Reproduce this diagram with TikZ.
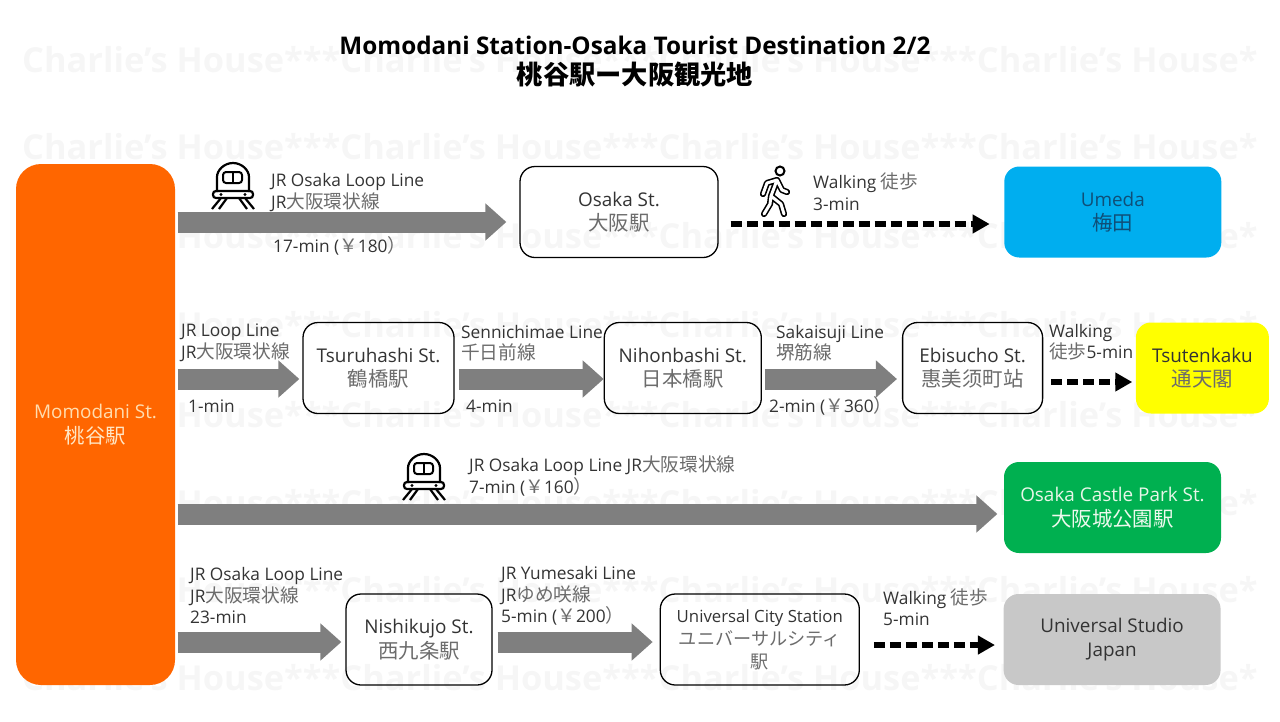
\documentclass[tikz,border=0pt]{standalone}
\usepackage{fontspec}
\usepackage{xcolor}
\usetikzlibrary{positioning, arrows.meta}
\setmainfont{Open Sans}
\newfontfamily\cjk[Scale=1.08]{Noto Sans CJK JP}
\newcommand{\jp}[1]{{\cjk\color{.!72!white}#1}}
\definecolor{markgray}{HTML}{F6F6F6}
\definecolor{linegray}{HTML}{7F7F7F}
\definecolor{labelgray}{HTML}{333333}
\definecolor{momoorange}{HTML}{FF6600}
\definecolor{momotext}{HTML}{FFDDB0}
\definecolor{umedablue}{HTML}{00AEEF}
\definecolor{umedatext}{HTML}{0F4F78}
\definecolor{tsutenyellow}{RGB}{255,255,0}
\definecolor{castlegreen}{HTML}{00B050}
\definecolor{castletext}{HTML}{E8F6E8}
\definecolor{studiogray}{HTML}{C8C8C8}

\begin{document}
\begin{tikzpicture}[x=1pt,y=-1pt,
    station/.style={
        rectangle,
        draw=black,
        line width=1.3pt,
        rounded corners=15pt,
        align=center,
        inner sep=0pt,
        minimum height=91pt,
        text=labelgray,
        execute at begin node={\rule{0pt}{22pt}},
        font=\fontsize{18.9}{24.5}\selectfont
      },
    spot/.style={station,draw=none},
    note/.style={
        anchor=west,
        align=left,
        inner sep=0pt,
        text=labelgray,
        font=\fontsize{17.3}{21.5}\selectfont
      },
    fatarrow/.style={
        draw=linegray,
        line width=21pt,
        -{Triangle[length=21pt,width=36pt]}
      },
    walkarrow/.style={
        draw=black,
        line width=5.5pt,
        dash pattern=on 11pt off 5pt,
        -{Triangle[length=17pt,width=18pt]}
      },
    trainicon/.pic={
        \draw[line width=2.2pt,rounded corners=2pt] (-16,6) -- (-16,-7) arc (180:360:16) -- (16,6);
        \draw[line width=2pt,rounded corners=3pt] (-10,-14) rectangle (9,-3);
        \draw[line width=2pt] (0,-14) -- (0,-3);
        \draw[line width=2.2pt,rounded corners=3pt] (-20,5) rectangle (20,12);
        \fill (-12,8.5) circle (1.6) (12,8.5) circle (1.6);
        \draw[line width=2.2pt] (-12,12) -- (-21,23) (-6,12) -- (-14,23) (12,12) -- (21,23) (6,12) -- (14,23);
      },
    walkericon/.pic={
        \draw[line width=2pt] (5,-19) circle (4.5);
        \draw[line width=1.6pt,double=white,double distance=3pt,line join=round,line cap=round]
          (-12,4) -- (-8,-7) -- (2,-10) -- (7,0) -- (12,2)
          (2,-10) -- (-4,6) -- (6,14) -- (9,24)
          (-4,6) -- (-5,14) -- (-11,24);
      }]

    \useasboundingbox (0,0) rectangle (1280,721);

    \foreach \rowy in {60,147,236,325,415,503,590,678}
      \node[anchor=west,inner sep=0pt,text=markgray,font=\fontsize{34.4}{38}\selectfont\bfseries]
        at (22,\rowy) {Charlie's House***Charlie's House***Charlie's House***Charlie's House*};

    \node[inner sep=0pt,align=center,text=black,font=\fontsize{24.3}{30}\selectfont\bfseries] (title) at (635,62)
      {Momodani Station-Osaka Tourist Destination 2/2\\{\cjk 桃谷駅ー大阪観光地}};

    \node[spot,fill=momoorange,text=momotext,rounded corners=25pt,minimum width=159pt,minimum height=521pt] (momo) at (95.5,424.5)
      {Momodani St.\\\jp{桃谷駅}};

    \node[station,minimum width=198pt] (osaka) at (619,212) {Osaka St.\\\jp{大阪駅}};
    \node[spot,fill=umedablue,text=umedatext,minimum width=217pt,right=285pt of osaka] (umeda) {Umeda\\{\cjk 梅田}};

    \node[station,minimum width=151pt] (tsuruhashi) at (378.5,368) {Tsuruhashi St.\\\jp{鶴橋駅}};
    \node[station,minimum width=157pt,right=149pt of tsuruhashi] (nihonbashi) {Nihonbashi St.\\\jp{日本橋駅}};
    \node[station,minimum width=140pt,right=140pt of nihonbashi] (ebisucho) {Ebisucho St.\\\jp{惠美须町站}};
    \node[spot,fill=tsutenyellow,minimum width=133pt,right=92pt of ebisucho] (tsutenkaku) {Tsutenkaku\\\jp{通天閣}};

    \node[spot,fill=castlegreen,text=castletext,minimum width=217pt] (castle) at (1112.5,507.5) {Osaka Castle Park St.\\\jp{大阪城公園駅}};

    \node[station,minimum width=146pt] (nishikujo) at (419,639.5) {Nishikujo St.\\\jp{西九条駅}};
    \node[station,minimum width=199pt,right=167pt of nishikujo,font=\fontsize{16.8}{23}\selectfont] (city) {Universal City Station\\\jp{ユニバーサルシティ}\\\jp{駅}};
    \node[spot,fill=studiogray,minimum width=217pt,right=143pt of city] (studio) {Universal Studio\\Japan};

    \coordinate (rowa) at (0,222);
    \coordinate (rowaw) at (0,224);
    \coordinate (rowb) at (0,379);
    \coordinate (rowbw) at (0,382);
    \coordinate (rowc) at (0,514);
    \coordinate (rowd) at (0,642);
    \coordinate (rowdw) at (0,645);

    \draw[fatarrow,shorten <=2pt,shorten >=13pt] (momo.east |- rowa) -- (osaka.west |- rowa);
    \draw[walkarrow,shorten <=12pt,shorten >=14pt] (osaka.east |- rowaw) -- (umeda.west |- rowaw);
    \draw[fatarrow,shorten <=2pt,shorten >=3pt] (momo.east |- rowb) -- (tsuruhashi.west |- rowb);
    \draw[fatarrow,shorten <=4pt,shorten >=0pt] (tsuruhashi.east |- rowb) -- (nihonbashi.west |- rowb);
    \draw[fatarrow,shorten <=3pt,shorten >=5pt] (nihonbashi.east |- rowb) -- (ebisucho.west |- rowb);
    \draw[walkarrow,shorten <=8pt,shorten >=3pt] (ebisucho.east |- rowbw) -- (tsutenkaku.west |- rowbw);
    \draw[fatarrow,shorten <=2pt,shorten >=6pt] (momo.east |- rowc) -- (castle.west |- rowc);
    \draw[fatarrow,shorten <=2pt,shorten >=4pt] (momo.east |- rowd) -- (nishikujo.west |- rowd);
    \draw[fatarrow,shorten <=5pt,shorten >=7pt] (nishikujo.east |- rowd) -- (city.west |- rowd);
    \draw[walkarrow,shorten <=14pt,shorten >=8pt] (city.east |- rowdw) -- (studio.west |- rowdw);

    \pic at (233,186) {trainicon};
    \pic at (424,477) {trainicon};
    \pic at (775,190) {walkericon};

    \node[note] (loopa) at (271,192.5) {JR Osaka Loop Line\\JR\jp{大阪環状線}};
    \node[note] (timea) at (273,246) {17-min (\jp{￥}180\jp{）}};
    \node[note] (walka) at (813,191.5) {Walking \jp{徒歩}\\3-min};

    \node[note] (loopb) at (181,343) {JR Loop Line\\JR\jp{大阪環状線}};
    \node[note] (timeb) at (188,406) {1-min};
    \node[note] (sennichi) at (461,343) {Sennichimae Line\\\jp{千日前線}};
    \node[note] (timec) at (466,406) {4-min};
    \node[note] (sakai) at (776,343) {Sakaisuji Line\\\jp{堺筋線}};
    \node[note] (timed) at (769,406) {2-min (\jp{￥}360\jp{）}};
    \node[note] (walkb) at (1049,342) {Walking\\\jp{徒歩}5-min};

    \node[note] (loopc) at (469,476) {JR Osaka Loop Line JR\jp{大阪環状線}\\7-min (\jp{￥}160\jp{）}};

    \node[note] (loopd) at (190,596) {JR Osaka Loop Line\\JR\jp{大阪環状線}\\23-min};
    \node[note] (yumesaki) at (501,596) {JR Yumesaki Line\\JR\jp{ゆめ咲線}\\5-min (\jp{￥}200\jp{）}};
    \node[note] (walkc) at (883,607) {Walking \jp{徒歩}\\5-min};
  \end{tikzpicture}
\end{document}
